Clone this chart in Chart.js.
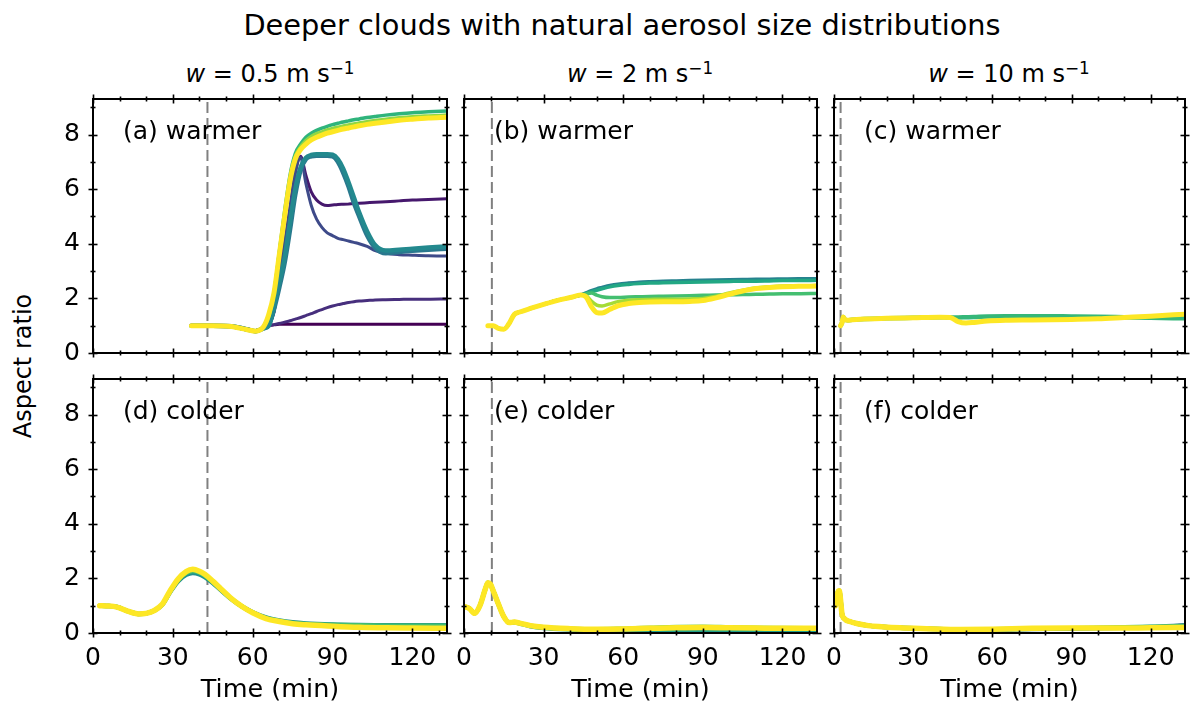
<!DOCTYPE html>
<html>
<head>
<meta charset="utf-8">
<script src="https://cdn.jsdelivr.net/npm/chart.js@4.4.1/dist/chart.umd.min.js"></script>
<style>
html,body{margin:0;padding:0;background:#fff;}
body{width:1190px;height:706px;position:relative;overflow:hidden;font-family:"DejaVu Sans",sans-serif;color:#000;}
canvas{position:absolute;}
.txt{position:absolute;white-space:nowrap;line-height:1;}
#title{font-size:28.8px;left:622px;top:11px;transform:translateX(-50%);}
.colh{font-size:24px;top:62px;transform:translateX(-50%);}
.colh sup{font-size:0.7em;vertical-align:0.5em;line-height:0;}
#ylab{font-size:24px;left:23px;top:366px;transform:translate(-50%,-50%) rotate(-90deg);}
</style>
</head>
<body>
<div id="title" class="txt">Deeper clouds with natural aerosol size distributions</div>
<div class="txt colh" style="left:270px"><i>w</i> = 0.5 m s<sup>−1</sup></div>
<div class="txt colh" style="left:640px"><i>w</i> = 2 m s<sup>−1</sup></div>
<div class="txt colh" style="left:1009px"><i>w</i> = 10 m s<sup>−1</sup></div>
<div id="ylab" class="txt">Aspect ratio</div>
<script>
// ---------------- data ----------------
const X_MAJOR = [0, 30, 60, 90, 120];
const X_MINOR = [10, 20, 40, 50, 70, 80, 100, 110, 130];
const Y_MAJOR = [0, 2, 4, 6, 8];
const Y_MINOR = [1, 3, 5, 7, 9];

// Panel (a) warmer, w = 0.5
const tA = [37,45,52,58,61,64,66,68,70,72,74,76,78,80,82,84,86,88,90,92,94,96,98,100,103,106,110,115,120,126,133];
const aFlat   = [1.0,1.0,0.98,0.88,0.82,0.9, 1.0,1.03,1.05,1.05,1.05,1.05,1.05,1.05,1.05,1.05,1.05,1.05,1.05,1.05,1.05,1.05,1.05,1.05,1.05,1.05,1.05,1.05,1.05,1.05,1.05];
const aRise2  = [1.0,1.0,0.98,0.88,0.82,0.9, 1.0,1.04,1.08,1.13,1.18,1.24,1.3,1.37,1.44,1.52,1.59,1.66,1.72,1.77,1.81,1.85,1.88,1.9,1.92,1.94,1.95,1.96,1.97,1.97,1.98];
const aSpike56= [1.0,1.0,0.98,0.88,0.82,0.9, 1.05,1.5,2.8,4.0,5.3,6.6,7.2,6.5,5.9,5.6,5.45,5.4,5.42,5.44,5.45,5.46,5.47,5.48,5.5,5.52,5.54,5.57,5.6,5.62,5.65];
const aSpike36= [1.0,1.0,0.98,0.88,0.82,0.9, 1.05,1.5,2.8,4.0,5.3,6.6,7.15,6.2,5.4,4.9,4.6,4.4,4.3,4.2,4.15,4.1,4.05,4.0,3.9,3.75,3.65,3.6,3.58,3.56,3.55];
const aTeal1  = [1.0,1.0,0.98,0.86,0.8,0.9, 1.0,1.6,2.4,3.3,4.5,5.8,6.7,7.1,7.2,7.22,7.22,7.22,7.2,7.0,6.6,6.1,5.5,5.0,4.3,3.85,3.65,3.7,3.74,3.78,3.82];
const aTeal2  = [1.0,1.0,0.98,0.86,0.8,0.9, 1.0,1.7,2.6,3.5,4.8,6.0,6.8,7.15,7.25,7.28,7.28,7.28,7.26,7.1,6.75,6.25,5.7,5.15,4.45,3.95,3.75,3.78,3.82,3.86,3.9];
const aGreen  = [1.0,1.0,0.97,0.85,0.8,0.95, 1.3,2.2,3.7,5.2,6.5,7.3,7.65,7.9,8.05,8.15,8.23,8.3,8.36,8.41,8.46,8.5,8.54,8.57,8.62,8.66,8.71,8.76,8.8,8.83,8.86];
const aLight  = [1.0,1.0,0.97,0.85,0.8,0.95, 1.35,2.2,3.65,5.1,6.4,7.2,7.55,7.78,7.93,8.03,8.1,8.17,8.22,8.27,8.31,8.35,8.39,8.42,8.47,8.51,8.56,8.61,8.65,8.68,8.71];
const aYellow = [1.0,1.0,0.97,0.85,0.8,0.95, 1.4,2.2,3.6,5.0,6.3,7.1,7.45,7.65,7.8,7.9,7.98,8.05,8.1,8.15,8.2,8.24,8.28,8.32,8.37,8.41,8.46,8.52,8.56,8.6,8.63];

// Panel (b) warmer, w = 2
const tB = [9,11,13,15,17,19,21,25,30,35,40,44,46,48,50,52,55,58,62,66,70,75,80,85,90,95,100,105,110,115,120,126,133];
const bTeal   = [1.0,1.0,0.9,0.87,1.08,1.42,1.5,1.63,1.78,1.92,2.03,2.12, 2.2,2.28,2.35,2.4,2.47,2.52,2.56,2.59,2.61,2.63,2.64,2.65,2.66,2.67,2.68,2.69,2.7,2.7,2.71,2.72,2.72];
const bGreenHi= [1.0,1.0,0.9,0.87,1.08,1.42,1.5,1.63,1.78,1.92,2.03,2.12, 2.18,2.25,2.3,2.35,2.42,2.47,2.51,2.54,2.56,2.57,2.58,2.59,2.6,2.61,2.62,2.63,2.63,2.64,2.65,2.65,2.66];
const bGreenLo= [1.0,1.0,0.9,0.87,1.08,1.42,1.5,1.63,1.78,1.92,2.03,2.12, 2.16,2.2,2.12,2.06,2.03,2.03,2.05,2.06,2.07,2.08,2.09,2.1,2.11,2.12,2.13,2.14,2.15,2.16,2.17,2.17,2.18];
const bLight  = [1.0,1.0,0.9,0.87,1.08,1.42,1.5,1.63,1.78,1.92,2.03,2.12, 2.1,1.9,1.75,1.72,1.8,1.88,1.93,1.95,1.96,1.97,1.97,1.98,2.0,2.08,2.2,2.3,2.38,2.42,2.45,2.46,2.47];
const bYellow = [1.0,1.0,0.9,0.87,1.08,1.42,1.5,1.63,1.78,1.92,2.03,2.12, 2.05,1.7,1.48,1.46,1.6,1.73,1.81,1.85,1.87,1.88,1.88,1.89,1.92,2.02,2.15,2.27,2.36,2.4,2.43,2.44,2.45];

// Panel (c) warmer, w = 10
const tC = [2.5,3,3.5,4,5,7,10,20,30,40,44,47,50,53,58,65,75,90,100,110,120,133];
const cDark   = [1.0,1.1,1.32,1.24,1.2,1.22,1.24,1.27,1.29,1.31,1.3, 1.12,1.06,1.09,1.14,1.18,1.2,1.22,1.24,1.28,1.33,1.4];
const cGreen  = [1.0,1.1,1.32,1.24,1.2,1.22,1.24,1.27,1.29,1.31,1.3, 1.3,1.31,1.32,1.34,1.35,1.35,1.34,1.33,1.31,1.29,1.27];
const cYellow = [1.0,1.1,1.32,1.24,1.2,1.22,1.24,1.27,1.29,1.31,1.3, 1.15,1.1,1.12,1.17,1.2,1.21,1.23,1.25,1.3,1.35,1.42];

// Panel (d) colder, w = 0.5
const tD = [2.5,5,9,13,17,20,23,26,29,32,35,37.5,40,42,45,48,52,56,60,65,70,75,80,90,100,110,120,133];
const dTeal   = [1.0,0.99,0.95,0.8,0.7,0.72,0.82,1.03,1.5,1.9,2.13,2.2,2.15,2.05,1.83,1.57,1.24,0.97,0.76,0.57,0.46,0.39,0.35,0.31,0.29,0.28,0.28,0.28];
const dGreen  = [1.0,0.99,0.95,0.8,0.7,0.72,0.82,1.04,1.52,1.94,2.19,2.27,2.21,2.1,1.87,1.6,1.25,0.97,0.75,0.55,0.44,0.37,0.33,0.3,0.28,0.27,0.27,0.27];
const dYellow = [1.0,0.99,0.95,0.8,0.7,0.72,0.82,1.05,1.55,1.98,2.25,2.33,2.26,2.15,1.9,1.62,1.26,0.97,0.74,0.53,0.42,0.34,0.3,0.25,0.21,0.19,0.18,0.17];

// Panel (e) colder, w = 2
const tE = [0.5,2,4,6,8,9,10,11,13,15,17,19,21,25,30,40,50,60,70,80,90,100,110,120,133];
const eGreen  = [0.96,0.9,0.72,1.0,1.6,1.84,1.78,1.55,1.05,0.6,0.38,0.39,0.35,0.25,0.18,0.13,0.11,0.11,0.11,0.12,0.12,0.11,0.11,0.1,0.1];
const eLight  = [0.96,0.9,0.72,1.0,1.6,1.84,1.78,1.55,1.05,0.6,0.38,0.4,0.36,0.27,0.21,0.16,0.14,0.16,0.19,0.22,0.23,0.21,0.19,0.18,0.17];
const eYellow = [0.96,0.9,0.72,1.0,1.6,1.84,1.78,1.55,1.05,0.6,0.38,0.4,0.36,0.27,0.21,0.16,0.14,0.15,0.17,0.19,0.2,0.19,0.18,0.17,0.17];

// Panel (f) colder, w = 10
const tF = [0.5,1,1.5,2,2.5,3,4,6,9,13,18,25,35,48,60,75,90,105,120,133];
const fTeal   = [1.0,1.25,1.5,1.55,1.2,0.72,0.52,0.42,0.34,0.27,0.23,0.19,0.16,0.13,0.13,0.15,0.16,0.18,0.22,0.28];
const fGreen  = [1.0,1.25,1.5,1.55,1.2,0.72,0.52,0.42,0.34,0.27,0.23,0.19,0.16,0.13,0.14,0.16,0.17,0.2,0.23,0.26];
const fYellow = [1.0,1.25,1.5,1.55,1.2,0.72,0.52,0.42,0.34,0.27,0.23,0.19,0.16,0.13,0.14,0.17,0.18,0.18,0.19,0.2];

// start-of-ascent reference times (dashed lines)
const vlineT = [43, 10.5, 2.5];

// ---------------- styles & layout ----------------
const FONT = '"DejaVu Sans", sans-serif';
const COL_LEFT = [93, 464, 834], COL_W = [354, 353, 351];
const ROW_TOP = [99, 379], PANEL_H = 254;
const Y_AXIS_W = 93, PAD_T = 10, PAD_R = 10;
const X_AXIS_H = [20, 73];

const PANELS = [
  {label:'(a) warmer', row:0, col:0, t:tA, series:[
    [aFlat,'#440154',3],[aRise2,'#472f7d',3],[aSpike56,'#46186d',3],[aSpike36,'#3e4a89',3],
    [aTeal1,'#2a788e',4.5],[aTeal2,'#23898e',4.5],[aGreen,'#2fb47c',3.5],[aLight,'#8fd744',3.5],[aYellow,'#fde725',5]]},
  {label:'(b) warmer', row:0, col:1, t:tB, series:[
    [bTeal,'#26828e',3.5],[bGreenHi,'#22a884',3.5],[bGreenLo,'#44bf70',3.5],[bLight,'#a5db36',3.5],[bYellow,'#fde725',5]]},
  {label:'(c) warmer', row:0, col:2, t:tC, series:[
    [cDark,'#3b528b',2],[cGreen,'#35b779',4.5],[cYellow,'#fde725',5]]},
  {label:'(d) colder', row:1, col:0, t:tD, series:[
    [dTeal,'#21918c',4.5],[dGreen,'#44bf70',4.5],[dYellow,'#fde725',5.5]]},
  {label:'(e) colder', row:1, col:1, t:tE, series:[
    [eGreen,'#1f9e89',4.5],[eLight,'#7ad151',4.5],[eYellow,'#fde725',5.5]]},
  {label:'(f) colder', row:1, col:2, t:tF, series:[
    [fTeal,'#2a788e',4.5],[fGreen,'#44bf70',4.5],[fYellow,'#fde725',5.5]]},
];

const framePlugin = {
  id: 'frame',
  afterDatasetsDraw(chart, args, opts) {
    const {ctx, chartArea: a, scales: {x, y}} = chart;
    ctx.save();
    ctx.strokeStyle = '#000';
    ctx.lineCap = 'butt';
    const seg = (x1, y1, x2, y2) => { ctx.beginPath(); ctx.moveTo(x1, y1); ctx.lineTo(x2, y2); ctx.stroke(); };
    ctx.lineWidth = 1.6;
    X_MAJOR.concat(X_MINOR).forEach(v => {
      const px = Math.round(x.getPixelForValue(v)) + 0.5;
      const L = X_MAJOR.includes(v) ? 4.5 : 2.5;
      seg(px, a.top - L, px, a.top + L);
      seg(px, a.bottom - L, px, a.bottom + L);
    });
    Y_MAJOR.concat(Y_MINOR).forEach(v => {
      const py = Math.round(y.getPixelForValue(v)) + 0.5;
      const L = Y_MAJOR.includes(v) ? 4.5 : 2.5;
      seg(a.left - L, py, a.left + L, py);
      seg(a.right - L, py, a.right + L, py);
    });
    ctx.lineWidth = 2;
    ctx.strokeRect(a.left, a.top, a.right - a.left, a.bottom - a.top);
    ctx.fillStyle = '#000';
    ctx.font = '25px ' + FONT;
    ctx.textBaseline = 'middle';
    ctx.textAlign = 'left';
    ctx.fillText(opts.label, a.left + 30, a.top + 33);
    ctx.restore();
  }
};

PANELS.forEach(p => {
  const cv = document.createElement('canvas');
  const w = Y_AXIS_W + COL_W[p.col] + PAD_R;
  const h = PAD_T + PANEL_H + X_AXIS_H[p.row];
  cv.width = w; cv.height = h;
  cv.style.left = (COL_LEFT[p.col] - Y_AXIS_W) + 'px';
  cv.style.top = (ROW_TOP[p.row] - PAD_T) + 'px';
  cv.style.width = w + 'px'; cv.style.height = h + 'px';
  document.body.appendChild(cv);

  const vx = vlineT[p.col];
  const datasets = [{
    data: [{x: vx, y: 0}, {x: vx, y: 9.3}],
    borderColor: '#808080', borderWidth: 2, borderDash: [11, 5],
    pointRadius: 0, order: 100
  }];
  p.series.forEach((s, i) => {
    datasets.push({
      data: p.t.map((t, k) => ({x: t, y: s[0][k]})),
      borderColor: s[1], borderWidth: s[2],
      pointRadius: 0, cubicInterpolationMode: 'monotone',
      borderJoinStyle: 'round', borderCapStyle: 'round',
      order: -i
    });
  });

  new Chart(cv, {
    type: 'line',
    data: {datasets},
    plugins: [framePlugin],
    options: {
      responsive: false, animation: false, events: [],
      devicePixelRatio: 1,
      layout: {padding: {top: PAD_T, right: PAD_R, left: 0, bottom: 0}},
      plugins: {legend: {display: false}, tooltip: {enabled: false}, frame: {label: p.label}},
      scales: {
        x: {
          type: 'linear', min: 0, max: 133,
          afterBuildTicks: s => { s.ticks = X_MAJOR.map(v => ({value: v})); },
          afterFit: s => { s.height = X_AXIS_H[p.row]; s.paddingLeft = 0; s.paddingRight = 0; },
          grid: {display: false, drawTicks: false, tickLength: 0},
          border: {display: false},
          ticks: {display: p.row === 1, color: '#000', font: {family: FONT, size: 25}, padding: 10, maxRotation: 0, autoSkip: false},
          title: {display: p.row === 1, text: 'Time (min)', color: '#000', font: {family: FONT, size: 25.5}, padding: 0}
        },
        y: {
          type: 'linear', min: 0, max: 9.3,
          afterBuildTicks: s => { s.ticks = Y_MAJOR.map(v => ({value: v})); },
          afterFit: s => { s.width = Y_AXIS_W; s.paddingTop = 0; s.paddingBottom = 0; },
          grid: {display: false, drawTicks: false, tickLength: 0},
          border: {display: false},
          ticks: {display: p.col === 0, color: '#000', font: {family: FONT, size: 25}, padding: 13}
        }
      }
    }
  });
});
</script>
</body>
</html>
